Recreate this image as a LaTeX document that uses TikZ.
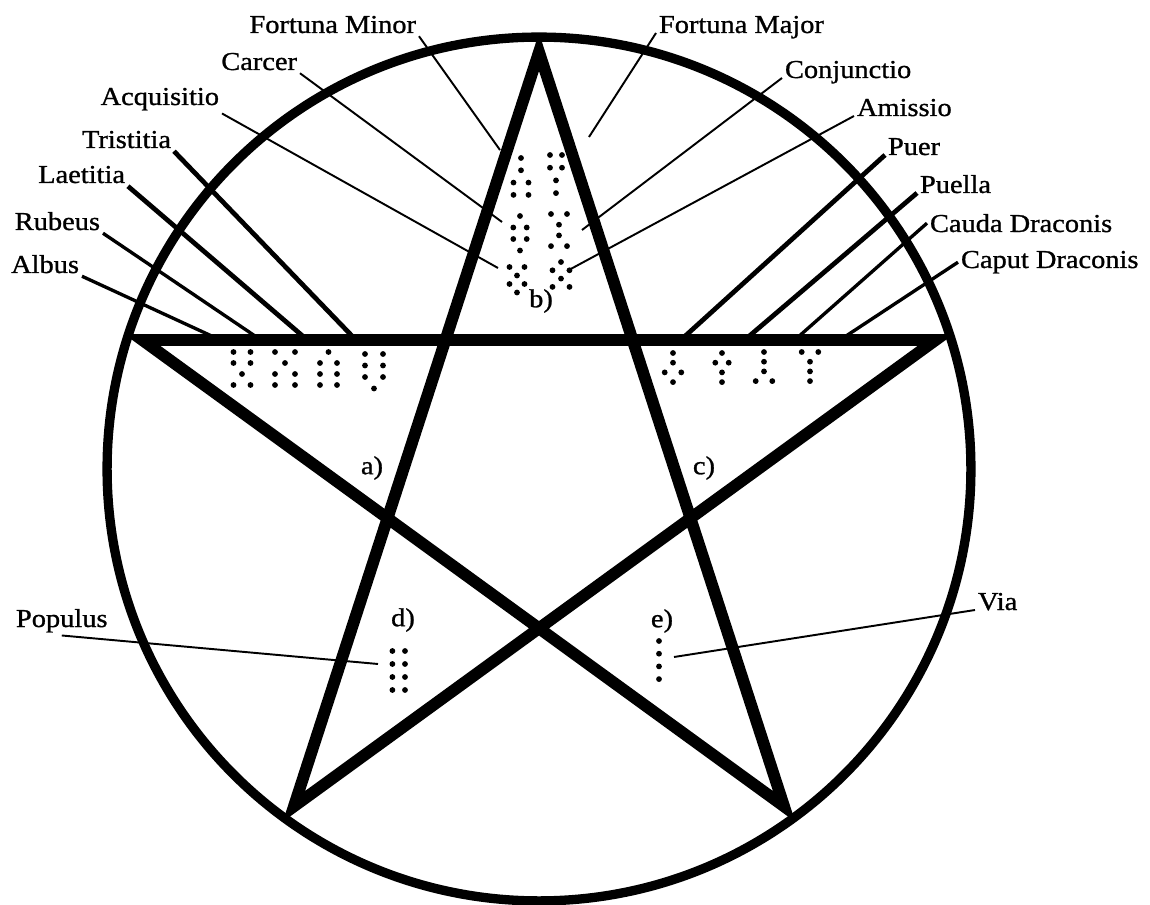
\documentclass[tikz,border=0pt]{standalone}
\usepackage{fontspec}
\setmainfont{Liberation Serif}[FakeStretch=1.1,FakeBold=1]
\usetikzlibrary{calc}
\newcommand{\geofig}[5]{%
  \foreach \n [count=\k from 0] in {#5}{%
    \ifnum\n=1
      \fill (#1,#2+\k*#4) circle (1.65pt);
    \else
      \fill (#1-#3,#2+\k*#4) circle (1.65pt) (#1+#3,#2+\k*#4) circle (1.65pt);
    \fi}}
\begin{document}
\begin{tikzpicture}[x=0.02cm,y=-0.02cm,
 lbl/.style={font=\fontsize{14.7}{17}\selectfont,inner sep=1.5pt},
 ring/.style={line width=5.3pt},
 star/.style={line width=6.7pt,line join=miter},
 hair/.style={line width=1.1pt},
 lead/.style={line width=1.9pt},
 heavy/.style={line width=2.7pt}]
\useasboundingbox (0,0) rectangle (1150,905);
\coordinate (o) at (539,469);
\coordinate (p1) at (539,52); \coordinate (p2) at (935.6,340.1);
\coordinate (p3) at (142.4,340.1); \coordinate (p4) at (293.9,806.4);
\coordinate (p5) at (784.1,806.4);
\node[lbl,anchor=base east] (fmin) at (419,33) {Fortuna Minor};
\node[lbl,anchor=base east] (carcer) at (300,70) {Carcer};
\node[lbl,anchor=base east] (acq) at (222,105) {Acquisitio};
\node[lbl,anchor=base east] (trist) at (174,148) {Tristitia};
\node[lbl,anchor=base east] (laet) at (128,183) {Laetitia};
\node[lbl,anchor=base east] (rub) at (103,230) {Rubeus};
\node[lbl,anchor=base east] (alb) at (82,273) {Albus};
\node[lbl,anchor=base west] (fmaj) at (656,33) {Fortuna Major};
\node[lbl,anchor=base west] (conj) at (782,78) {Conjunctio};
\node[lbl,anchor=base west] (amis) at (854,116) {Amissio};
\node[lbl,anchor=base west] (puer) at (885,155) {Puer};
\node[lbl,anchor=base west] (puel) at (917,193) {Puella};
\node[lbl,anchor=base west] (cauda) at (927,232) {Cauda Draconis};
\node[lbl,anchor=base west] (caput) at (958,268) {Caput Draconis};
\node[lbl,anchor=base west] (pop) at (13,627) {Populus};
\node[lbl,anchor=base west] (via) at (975,610) {Via};
\node[lbl] (fa) at (372,468) {a)};
\node[lbl] (fb) at (541,301) {b)};
\node[lbl] (fc) at (704,468) {c)};
\node[lbl] (fd) at (403,620) {d)};
\node[lbl] (fe) at (662,621) {e)};
\coordinate (fmin-e) at (500,150); \coordinate (carcer-e) at (502,222);
\coordinate (acq-e) at (498,268); \coordinate (trist-e) at (354,338);
\coordinate (laet-e) at (305,338); \coordinate (rub-e) at (258,338);
\coordinate (alb-e) at (216,338); \coordinate (fmaj-e) at (589,137);
\coordinate (conj-e) at (582,230); \coordinate (amis-e) at (567,271);
\coordinate (puer-e) at (683,338); \coordinate (puel-e) at (747,338);
\coordinate (cauda-e) at (797,338); \coordinate (caput-e) at (843,338);
\coordinate (pop-e) at (378,664); \coordinate (via-e) at (674,657);
\draw[hair] (fmin.south east)--(fmin-e); \draw[hair] (carcer.south east)--(carcer-e);
\draw[hair] (acq.south east)--(acq-e); \draw[heavy] (trist.south east)--(trist-e);
\draw[heavy] (laet.south east)--(laet-e); \draw[lead] (rub.south east)--(rub-e);
\draw[lead] (alb.south east)--(alb-e); \draw[hair] (fmaj.base west)--(fmaj-e);
\draw[hair] (conj.base west)--(conj-e); \draw[hair] (amis.base west)--(amis-e);
\draw[heavy] (puer.base west)--(puer-e); \draw[heavy] (puel.base west)--(puel-e);
\draw[lead] (cauda.west)--(cauda-e); \draw[lead] (caput.west)--(caput-e);
\draw[hair] (pop.south)--(pop-e); \draw[hair] (via.base west)--(via-e);
\draw[ring] (o) circle (8.64cm);
\draw[star] (p1)--(p4)--(p2)--(p3)--(p5)--cycle;
\geofig{521}{158}{7.5}{12.3}{1,1,2,2}
\geofig{556}{155}{6}{12.7}{2,2,1,1}
\geofig{520}{216}{6.7}{11.5}{1,2,2,1}
\geofig{559}{214}{8}{10.7}{2,1,1,2}
\geofig{517}{267}{7.5}{8.5}{2,1,2,1}
\geofig{561}{262}{8.5}{8.3}{1,2,1,2}
\geofig{242}{352}{8.5}{11}{2,2,1,2}
\geofig{285}{352}{10}{11}{2,1,2,2}
\geofig{328.5}{352}{8.5}{11}{1,2,2,2}
\geofig{374}{354}{9}{11.5}{2,2,2,1}
\geofig{673}{353}{8.3}{9.7}{1,1,2,1}
\geofig{722}{353}{6.7}{9.7}{1,2,1,1}
\geofig{764}{352}{8.3}{9.7}{1,1,1,2}
\geofig{810}{352}{8.3}{9.7}{2,1,1,1}
\geofig{398.7}{651}{6.3}{13}{2,2,2,2}
\geofig{659}{641}{0}{12.7}{1,1,1,1}
\end{tikzpicture}
\end{document}
